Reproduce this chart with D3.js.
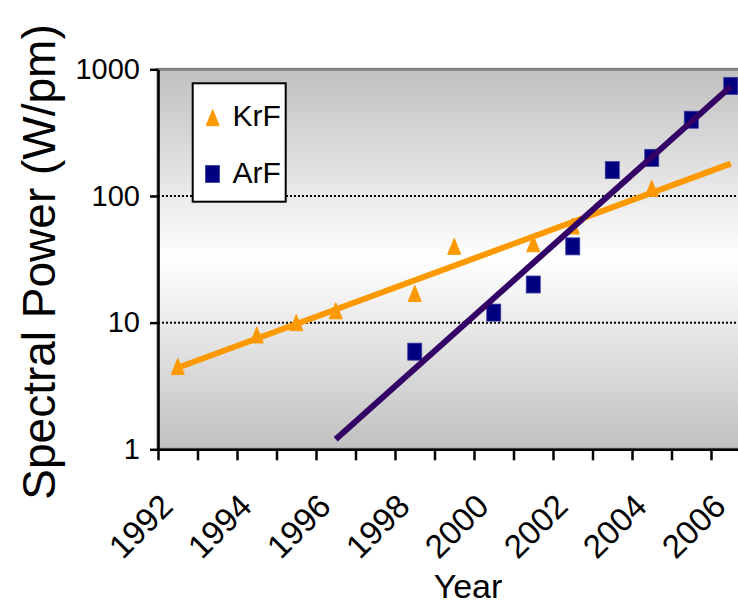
<!DOCTYPE html>
<html>
<head>
<meta charset="utf-8">
<script src="https://cdn.jsdelivr.net/npm/d3@7"></script>
<style>
  body { margin: 0; background: #fff; }
  text { font-family: "Liberation Sans", Arial, Helvetica, sans-serif; fill: #000; }
</style>
</head>
<body>
<script>
// categories (one band per year) and labelled years
const years = d3.range(1992, 2007);
const yearLabels = [1992, 1994, 1996, 1998, 2000, 2002, 2004, 2006];
const yTicks = [1, 10, 100, 1000];

// KrF measurements
const krfYears = [1992, 1994, 1995, 1996, 1998, 1999, 2001, 2002, 2004];
const krfPower = [4.5, 8, 10, 12.4, 17, 40, 42, 58, 115];

// ArF measurements
const arfYears = [1998, 2000, 2001, 2002, 2003, 2004, 2005, 2006];
const arfPower = [5.9, 12, 20, 40, 160, 200, 400, 740];

// trendlines (end points)
const krfTrendYears = [1992, 2006];
const krfTrend = [4.4, 180];
const arfTrendYears = [1996, 2006];
const arfTrend = [1.2, 730];

const w = 738, h = 605;
const plotLeft = 158, bandW = 39.5;
const plotTop = 69.3, plotBottom = 449.3;

const svg = d3.select("body").append("svg")
  .attr("width", w).attr("height", h);

// x: band boundaries at half years, category centres on whole years
const xScale = d3.scaleLinear()
  .domain([years[0] - 0.5, years[years.length - 1] + 0.5])
  .range([plotLeft, plotLeft + years.length * bandW]);

const yScale = d3.scaleLog()
  .domain([1, 1000])
  .range([plotBottom, plotTop]);

// background gradient gray - white - gray
const grad = svg.append("defs").append("linearGradient")
  .attr("id", "bg").attr("x1", 0).attr("y1", 0).attr("x2", 0).attr("y2", 1);
grad.append("stop").attr("offset", "0%").attr("stop-color", "#c0c0c0");
grad.append("stop").attr("offset", "50%").attr("stop-color", "#ffffff");
grad.append("stop").attr("offset", "100%").attr("stop-color", "#c0c0c0");

svg.append("rect")
  .attr("x", xScale.range()[0]).attr("y", yScale(1000))
  .attr("width", xScale.range()[1] - xScale.range()[0])
  .attr("height", yScale(1) - yScale(1000))
  .attr("fill", "url(#bg)")
  .attr("stroke", "#808080").attr("stroke-width", 3);

// dotted gridlines at 10 and 100
svg.append("g").selectAll("line")
  .data([10, 100])
  .enter().append("line")
  .attr("x1", xScale.range()[0]).attr("x2", xScale.range()[1])
  .attr("y1", d => yScale(d)).attr("y2", d => yScale(d))
  .attr("stroke", "#000").attr("stroke-width", 2)
  .attr("stroke-dasharray", "2,2");

// markers
const tri = "M0,-8 L6.5,8 L-6.5,8 Z";
svg.append("g").selectAll("path")
  .data(krfYears.map((y, i) => [y, krfPower[i]]))
  .enter().append("path")
  .attr("d", tri)
  .attr("transform", d => "translate(" + xScale(d[0]) + "," + yScale(d[1]) + ")")
  .attr("fill", "#ff9900").attr("stroke", "#ff9900")
  .attr("stroke-width", 1).attr("stroke-linejoin", "round");

svg.append("g").selectAll("rect")
  .data(arfYears.map((y, i) => [y, arfPower[i]]))
  .enter().append("rect")
  .attr("x", d => xScale(d[0]) - 7)
  .attr("y", d => yScale(d[1]) - 8.5)
  .attr("width", 14).attr("height", 17)
  .attr("fill", "#000080").attr("stroke", "#3a3aa0").attr("stroke-width", 0.8);

// trendlines
const line = d3.line().x(d => xScale(d[0])).y(d => yScale(d[1]));
svg.append("path")
  .datum(krfTrendYears.map((y, i) => [y, krfTrend[i]]))
  .attr("d", line)
  .attr("fill", "none").attr("stroke", "#ff9900").attr("stroke-width", 6);
svg.append("path")
  .datum(arfTrendYears.map((y, i) => [y, arfTrend[i]]))
  .attr("d", line)
  .attr("fill", "none").attr("stroke", "#330066").attr("stroke-width", 6);

// axes
const xAxis = d3.axisBottom(xScale)
  .tickValues(d3.range(years[0] - 0.5, years[years.length - 1] + 1, 1))
  .tickFormat("").tickSize(11).tickSizeOuter(0);
const gx = svg.append("g")
  .attr("transform", "translate(0," + plotBottom + ")")
  .call(xAxis);
gx.selectAll("path, line").attr("stroke", "#000").attr("stroke-width", 2.5);

svg.append("g").selectAll("text")
  .data(yearLabels)
  .enter().append("text")
  .attr("transform", d => "translate(" + (xScale(d) - 3) + "," + (plotBottom + 59) + ") rotate(-45)")
  .attr("text-anchor", "end")
  .style("font-size", "33px")
  .text(d => d);

const yAxis = d3.axisLeft(yScale)
  .tickValues(yTicks)
  .tickFormat(d3.format("d"))
  .tickSize(8).tickPadding(10).tickSizeOuter(0);
const gy = svg.append("g")
  .attr("transform", "translate(" + plotLeft + ",0)")
  .call(yAxis);
gy.selectAll("path, line").attr("stroke", "#000").attr("stroke-width", 2.5);
gy.selectAll("text")
  .style("font-size", "29px")
  .style("font-family", "'Liberation Sans', Arial, sans-serif");

// titles
svg.append("text")
  .attr("x", 468).attr("y", 598)
  .attr("text-anchor", "middle")
  .style("font-size", "34px")
  .text("Year");

svg.append("text")
  .attr("transform", "translate(55,262) rotate(-90)")
  .attr("text-anchor", "middle")
  .style("font-size", "46px")
  .text("Spectral Power (W/pm)");

// legend
const legend = svg.append("g");
legend.append("rect")
  .attr("x", 192.7).attr("y", 83.3)
  .attr("width", 93).attr("height", 118.4)
  .attr("fill", "#fff").attr("stroke", "#000").attr("stroke-width", 2);
legend.append("path")
  .attr("d", tri)
  .attr("transform", "translate(212.7,117.7)")
  .attr("fill", "#ff9900").attr("stroke", "#ff9900").attr("stroke-linejoin", "round");
legend.append("rect")
  .attr("x", 205.5).attr("y", 165.5)
  .attr("width", 14).attr("height", 17)
  .attr("fill", "#000080").attr("stroke", "#3a3aa0").attr("stroke-width", 0.8);
legend.append("text")
  .attr("x", 232.5).attr("y", 125.5)
  .style("font-size", "30px")
  .text("KrF");
legend.append("text")
  .attr("x", 232.5).attr("y", 182.5)
  .style("font-size", "30px")
  .text("ArF");
</script>
</body>
</html>
